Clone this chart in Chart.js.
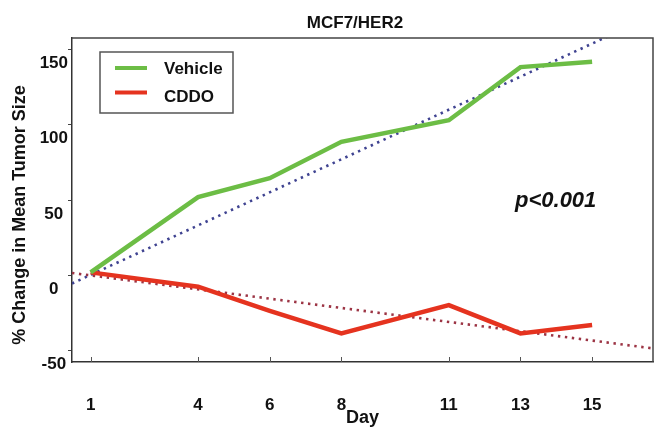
<!DOCTYPE html>
<html>
<head>
<meta charset="utf-8">
<script src="https://cdn.jsdelivr.net/npm/chart.js@4.4.0/dist/chart.umd.min.js"></script>
<style>
  html, body { margin: 0; padding: 0; background: #ffffff; }
  #wrap { width: 659px; height: 429px; position: relative; }
</style>
</head>
<body>
<div id="wrap"><canvas id="c" width="659" height="429"></canvas></div>
<script>
// ---- data ----
const days = [1, 4, 6, 8, 11, 13, 15];
const vehicle = [2, 52, 64.5, 88.7, 103, 138.3, 141.8];
const cddo = [2, -7.5, -23.5, -38.5, -19.7, -38.5, -33];
// dotted trend lines: end points (day, value) as read at the plot edges
const vehicleTrendDays = [0.48, 16.7];
const vehicleTrendVals = [-5.4, 172.5];
const cddoTrendDays = [0.48, 16.7];
const cddoTrendVals = [1.6, -48.5];
const xTicks = [1, 4, 6, 8, 11, 13, 15];
const yTicks = [-50, 0, 50, 100, 150];
const seriesNames = ['Vehicle', 'CDDO'];
const chartTitle = 'MCF7/HER2';
const yTitle = '% Change in Mean Tumor Size';
const xTitle = 'Day';
const pText = 'p<0.001';

const GREEN = '#6cbd45';
const RED = '#e5331f';
const FONT = '"Liberation Sans", Arial, Helvetica, sans-serif';

const toPts = (xs, ys) => xs.map((x, i) => ({x: x, y: ys[i]}));

const annot = {
  id: 'annot',
  afterDatasetsDraw(chart) {
    const ctx = chart.ctx;
    const a = chart.chartArea;
    const xs = chart.scales.x;
    ctx.save();
    // frame top & right
    ctx.strokeStyle = '#444';
    ctx.lineWidth = 1.5;
    ctx.beginPath();
    ctx.moveTo(a.left, a.top);
    ctx.lineTo(a.right, a.top);
    ctx.lineTo(a.right, a.bottom);
    ctx.stroke();
    // inward x tick marks
    ctx.lineWidth = 1;
    ctx.strokeStyle = '#555';
    xTicks.forEach(v => {
      const px = Math.round(xs.getPixelForValue(v)) + 0.5;
      ctx.beginPath();
      ctx.moveTo(px, a.bottom);
      ctx.lineTo(px, a.bottom - 5);
      ctx.stroke();
    });
    // legend box
    ctx.strokeStyle = '#555';
    ctx.lineWidth = 1.5;
    ctx.fillStyle = '#ffffff';
    ctx.fillRect(100, 52, 133, 61);
    ctx.strokeRect(100, 52, 133, 61);
    const ds = chart.data.datasets;
    [0, 1].forEach((i, k) => {
      const y = 68 + k * 24.5;
      ctx.strokeStyle = ds[i].borderColor;
      ctx.lineWidth = 4;
      ctx.beginPath();
      ctx.moveTo(115, y);
      ctx.lineTo(147, y);
      ctx.stroke();
      ctx.fillStyle = '#111';
      ctx.font = 'bold 17px ' + FONT;
      ctx.textAlign = 'left';
      ctx.textBaseline = 'alphabetic';
      ctx.fillText(ds[i].label, 164, 74 + k * 28);
    });
    // p value
    ctx.fillStyle = '#111';
    ctx.font = 'italic bold 22px ' + FONT;
    ctx.textAlign = 'left';
    ctx.textBaseline = 'alphabetic';
    ctx.fillText(pText, 515, 207);
    // chart title
    ctx.font = 'bold 17px ' + FONT;
    ctx.textAlign = 'center';
    ctx.fillText(chartTitle, 355, 28);
    // y title
    ctx.translate(20, 215);
    ctx.rotate(-Math.PI / 2);
    ctx.font = 'bold 18px ' + FONT;
    ctx.textAlign = 'center';
    ctx.textBaseline = 'middle';
    ctx.fillText(yTitle, 0, 0);
    ctx.restore();
  }
};

new Chart(document.getElementById('c'), {
  type: 'line',
  data: {
    datasets: [
      {
        label: seriesNames[0],
        data: toPts(days, vehicle),
        borderColor: GREEN,
        borderWidth: 4.5,
        pointRadius: 0,
        tension: 0,
        order: 1
      },
      {
        label: seriesNames[1],
        data: toPts(days, cddo),
        borderColor: RED,
        borderWidth: 4.5,
        pointRadius: 0,
        tension: 0,
        order: 1
      },
      {
        label: 'Vehicle trend',
        data: toPts(vehicleTrendDays, vehicleTrendVals),
        borderColor: '#3f4391',
        borderWidth: 2.6,
        borderDash: [2.4, 4.6],
        pointRadius: 0,
        order: 2
      },
      {
        label: 'CDDO trend',
        data: toPts(cddoTrendDays, cddoTrendVals),
        borderColor: '#9c3444',
        borderWidth: 2.6,
        borderDash: [2.4, 4.6],
        pointRadius: 0,
        order: 2
      }
    ]
  },
  options: {
    responsive: false,
    animation: false,
    devicePixelRatio: 1,
    layout: { padding: { left: 0, top: 38, right: 6, bottom: 0 } },
    plugins: {
      legend: { display: false },
      title: { display: false },
      tooltip: { enabled: false }
    },
    scales: {
      x: {
        type: 'linear',
        min: 0.48,
        max: 16.7,
        afterBuildTicks: s => { s.ticks = xTicks.map(v => ({value: v})); },
        afterFit: s => { s.height = 67; },
        grid: { display: false },
        border: { display: true, color: '#333', width: 1.5 },
        ticks: {
          padding: 25,
          color: '#111',
          font: { family: FONT, size: 17, weight: 'bold' },
          maxRotation: 0,
          autoSkip: false
        },
        title: {
          display: true,
          text: xTitle,
          color: '#111',
          font: { family: FONT, size: 18, weight: 'bold' },
          padding: { top: 0, bottom: 0 }
        }
      },
      y: {
        type: 'linear',
        min: -57.5,
        max: 157.6,
        afterBuildTicks: s => { s.ticks = yTicks.map(v => ({value: v})); },
        afterFit: s => { s.width = 72; },
        grid: { drawOnChartArea: false, drawTicks: true, tickLength: 4, color: '#444' },
        border: { display: true, color: '#333', width: 1.5 },
        ticks: {
          padding: 0,
          labelOffset: 14,
          crossAlign: 'center',
          color: '#111',
          font: { family: FONT, size: 17, weight: 'bold' },
          autoSkip: false
        },
        title: { display: false }
      }
    }
  },
  plugins: [annot]
});
</script>
</body>
</html>
